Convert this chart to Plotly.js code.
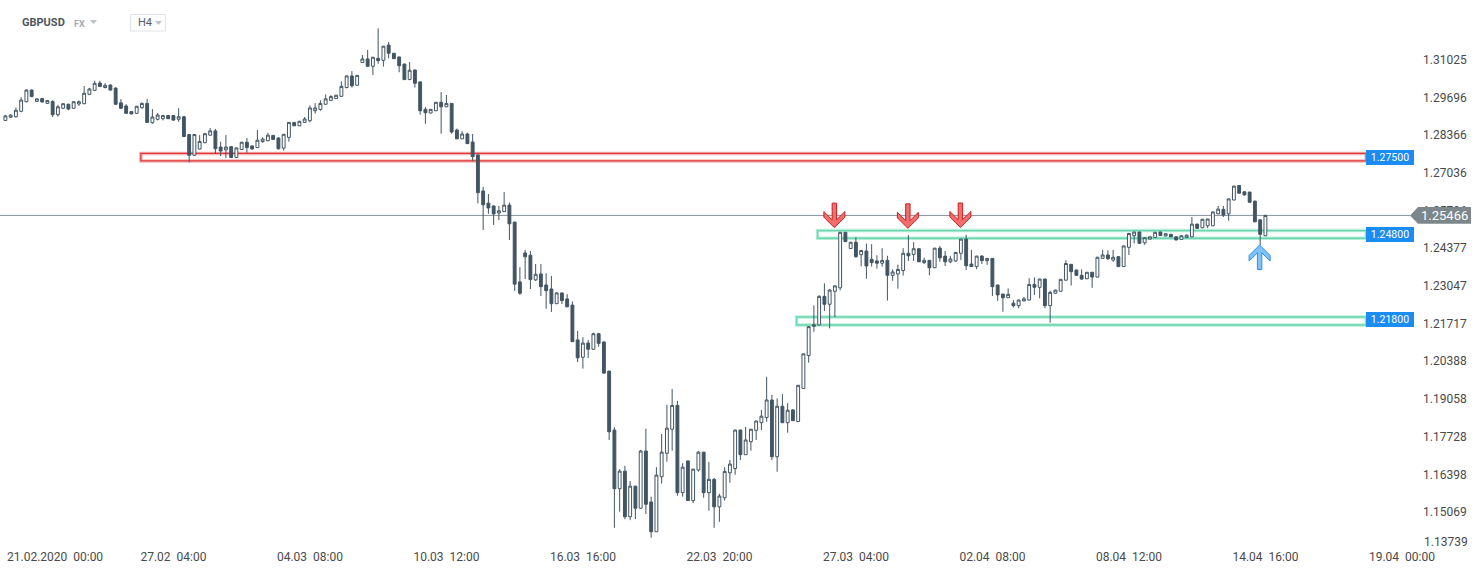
<!DOCTYPE html>
<html>
<head>
<meta charset="utf-8">
<script src="https://cdn.plot.ly/plotly-3.0.1.min.js"></script>
<style>
html,body{margin:0;padding:0;background:#fff;}
#chart{width:1482px;height:574px;}
</style>
</head>
<body>
<div id="chart"></div>
<script>
// ---------------- DATA (GBPUSD, H4 candles) ----------------
const symbol = "GBPUSD";
const market = "FX";
const timeframe = "H4";
const firstCandleIndex = -6; // candle 0 = 21.02.2020 00:00

const open = [
1.2882,1.2893,1.2895,1.2914,1.2948,1.2989,1.2949,1.2959,1.2942,1.2949,
1.2902,1.2925,1.2939,1.2925,1.2940,1.2941,1.2974,1.2988,1.3014,1.2998,
1.3007,1.2996,1.2944,1.2933,1.2913,1.2907,1.2927,1.2942,1.2874,1.2886,
1.2888,1.2899,1.2899,1.2886,1.2895,1.2832,1.2759,1.2781,1.2803,1.2830,
1.2845,1.2788,1.2778,1.2789,1.2751,1.2779,1.2805,1.2792,1.2786,1.2807,
1.2810,1.2829,1.2820,1.2784,1.2822,1.2875,1.2863,1.2875,1.2881,1.2916,
1.2921,1.2939,1.2953,1.2959,1.2967,1.2998,1.3039,1.3006,1.3086,1.3099,
1.3073,1.3101,1.3094,1.3148,1.3119,1.3106,1.3081,1.3026,1.3060,1.3018,
1.2921,1.2908,1.2916,1.2946,1.2930,1.2942,1.2848,1.2817,1.2834,1.2806,
1.2760,1.2633,1.2590,1.2580,1.2555,1.2560,1.2583,1.2523,1.2312,1.2414,
1.2406,1.2319,1.2340,1.2301,1.2287,1.2235,1.2273,1.2252,1.2230,1.2107,
1.2046,1.2096,1.2074,1.2129,1.2100,1.1997,1.1789,1.1582,1.1644,1.1483,
1.1591,1.1513,1.1715,1.1535,1.1430,1.1624,1.1707,1.1792,1.1876,1.1568,
1.1680,1.1540,1.1648,1.1711,1.1568,1.1615,1.1518,1.1550,1.1638,1.1653,
1.1789,1.1702,1.1748,1.1788,1.1815,1.1833,1.1895,1.1695,1.1873,1.1815,
1.1860,1.1819,1.1936,1.2052,1.2155,1.2160,1.2261,1.2233,1.2279,1.2291,
1.2487,1.2430,1.2452,1.2408,1.2421,1.2392,1.2386,1.2378,1.2388,1.2335,
1.2340,1.2352,1.2413,1.2409,1.2429,1.2380,1.2388,1.2362,1.2431,1.2403,
1.2383,1.2386,1.2413,1.2463,1.2375,1.2366,1.2403,1.2387,1.2395,1.2301,
1.2269,1.2256,1.2237,1.2228,1.2245,1.2248,1.2303,1.2293,1.2322,1.2228,
1.2272,1.2279,1.2318,1.2374,1.2354,1.2335,1.2323,1.2346,1.2329,1.2395,
1.2407,1.2389,1.2401,1.2366,1.2434,1.2475,1.2488,1.2450,1.2463,1.2469,
1.2488,1.2474,1.2480,1.2471,1.2462,1.2469,1.2471,1.2516,1.2503,1.2510,
1.2510,1.2552,1.2568,1.2552,1.2601,1.2652,1.2630,1.2629,1.2597,1.2531,
1.2475];

const high = [
1.2901,1.2903,1.2927,1.2964,1.2992,1.2991,1.2960,1.2961,1.2953,1.2953,
1.2937,1.2943,1.2941,1.2949,1.2952,1.3003,1.2997,1.3022,1.3022,1.3013,
1.3009,1.2999,1.2957,1.2939,1.2914,1.2933,1.2946,1.2958,1.2922,1.2908,
1.2902,1.2902,1.2901,1.2925,1.2898,1.2834,1.2834,1.2830,1.2838,1.2855,
1.2852,1.2807,1.2830,1.2792,1.2786,1.2806,1.2820,1.2793,1.2848,1.2822,
1.2838,1.2830,1.2823,1.2834,1.2876,1.2876,1.2880,1.2894,1.2935,1.2943,
1.2953,1.2974,1.2971,1.2972,1.3020,1.3041,1.3056,1.3042,1.3113,1.3131,
1.3106,1.3207,1.3145,1.3159,1.3120,1.3107,1.3082,1.3088,1.3061,1.3019,
1.2929,1.2922,1.2947,1.2982,1.2972,1.2943,1.2853,1.2844,1.2839,1.2834,
1.2761,1.2647,1.2622,1.2582,1.2580,1.2629,1.2592,1.2524,1.2364,1.2425,
1.2421,1.2375,1.2375,1.2342,1.2333,1.2276,1.2274,1.2269,1.2243,1.2139,
1.2117,1.2107,1.2133,1.2132,1.2101,1.1998,1.1799,1.1651,1.1663,1.1609,
1.1592,1.1719,1.1794,1.1554,1.1658,1.1775,1.1878,1.1934,1.1892,1.1672,
1.1681,1.1652,1.1715,1.1712,1.1676,1.1620,1.1564,1.1658,1.1683,1.1790,
1.1790,1.1800,1.1793,1.1822,1.1860,1.1977,1.1913,1.1901,1.1916,1.1884,
1.1863,1.1948,1.2059,1.2155,1.2229,1.2265,1.2307,1.2287,1.2299,1.2488,
1.2488,1.2453,1.2469,1.2425,1.2447,1.2445,1.2406,1.2431,1.2404,1.2356,
1.2373,1.2431,1.2477,1.2452,1.2431,1.2398,1.2389,1.2432,1.2439,1.2421,
1.2404,1.2417,1.2464,1.2478,1.2425,1.2404,1.2407,1.2396,1.2396,1.2302,
1.2270,1.2289,1.2248,1.2249,1.2259,1.2325,1.2328,1.2323,1.2323,1.2281,
1.2284,1.2322,1.2389,1.2375,1.2355,1.2356,1.2347,1.2347,1.2400,1.2425,
1.2423,1.2425,1.2402,1.2440,1.2485,1.2489,1.2489,1.2469,1.2472,1.2488,
1.2489,1.2483,1.2481,1.2472,1.2476,1.2479,1.2541,1.2517,1.2534,1.2535,
1.2560,1.2580,1.2580,1.2606,1.2652,1.2654,1.2631,1.2630,1.2599,1.2532,
1.2549];

const low = [
1.2881,1.2891,1.2892,1.2911,1.2946,1.2964,1.2948,1.2946,1.2941,1.2894,
1.2895,1.2922,1.2918,1.2923,1.2933,1.2939,1.2971,1.2986,1.2999,1.2995,
1.2988,1.2936,1.2922,1.2905,1.2903,1.2906,1.2923,1.2874,1.2870,1.2882,
1.2882,1.2887,1.2881,1.2877,1.2823,1.2734,1.2756,1.2779,1.2802,1.2827,
1.2764,1.2756,1.2749,1.2749,1.2749,1.2778,1.2768,1.2779,1.2785,1.2803,
1.2809,1.2814,1.2779,1.2775,1.2807,1.2862,1.2862,1.2874,1.2875,1.2906,
1.2916,1.2938,1.2950,1.2958,1.2966,1.2995,1.2998,1.3005,1.3085,1.3072,
1.3042,1.3082,1.3072,1.3101,1.3099,1.3052,1.3025,1.3025,1.2998,1.2902,
1.2870,1.2907,1.2915,1.2835,1.2929,1.2835,1.2816,1.2816,1.2799,1.2739,
1.2589,1.2495,1.2552,1.2513,1.2530,1.2559,1.2460,1.2280,1.2266,1.2322,
1.2287,1.2315,1.2262,1.2217,1.2206,1.2234,1.2234,1.2223,1.2100,1.2029,
1.2006,1.2043,1.2073,1.2083,1.1987,1.1754,1.1444,1.1501,1.1474,1.1471,
1.1475,1.1512,1.1493,1.1409,1.1429,1.1600,1.1677,1.1716,1.1557,1.1554,
1.1539,1.1531,1.1642,1.1550,1.1504,1.1444,1.1465,1.1540,1.1603,1.1631,
1.1683,1.1701,1.1716,1.1754,1.1789,1.1818,1.1683,1.1642,1.1814,1.1780,
1.1821,1.1817,1.1935,1.2027,1.2136,1.2159,1.2209,1.2148,1.2188,1.2282,
1.2453,1.2428,1.2397,1.2367,1.2323,1.2366,1.2359,1.2366,1.2246,1.2316,
1.2288,1.2334,1.2386,1.2386,1.2382,1.2375,1.2335,1.2361,1.2383,1.2368,
1.2378,1.2383,1.2389,1.2354,1.2365,1.2357,1.2375,1.2372,1.2262,1.2245,
1.2207,1.2255,1.2222,1.2219,1.2243,1.2247,1.2266,1.2254,1.2219,1.2168,
1.2271,1.2278,1.2317,1.2299,1.2334,1.2319,1.2322,1.2291,1.2328,1.2394,
1.2389,1.2383,1.2365,1.2365,1.2407,1.2448,1.2447,1.2443,1.2462,1.2468,
1.2475,1.2473,1.2470,1.2459,1.2461,1.2468,1.2470,1.2500,1.2502,1.2502,
1.2509,1.2551,1.2541,1.2528,1.2600,1.2624,1.2617,1.2592,1.2523,1.2442,
1.2475];

const close = [
1.2898,1.2901,1.2918,1.2954,1.2989,1.2966,1.2958,1.2947,1.2952,1.2902,
1.2930,1.2941,1.2922,1.2948,1.2948,1.2978,1.2993,1.3013,1.3002,1.3006,
1.2989,1.2939,1.2925,1.2907,1.2905,1.2932,1.2942,1.2875,1.2894,1.2901,
1.2899,1.2888,1.2883,1.2895,1.2825,1.2759,1.2832,1.2808,1.2835,1.2845,
1.2782,1.2774,1.2788,1.2751,1.2785,1.2805,1.2786,1.2781,1.2812,1.2816,
1.2830,1.2815,1.2782,1.2833,1.2875,1.2863,1.2879,1.2887,1.2926,1.2926,
1.2942,1.2958,1.2966,1.2971,1.3002,1.3039,1.3004,1.3041,1.3099,1.3073,
1.3105,1.3093,1.3144,1.3119,1.3100,1.3075,1.3026,1.3059,1.3013,1.2916,
1.2909,1.2921,1.2946,1.2930,1.2942,1.2841,1.2817,1.2834,1.2800,1.2754,
1.2627,1.2584,1.2573,1.2552,1.2563,1.2583,1.2517,1.2304,1.2272,1.2401,
1.2320,1.2339,1.2295,1.2281,1.2235,1.2273,1.2246,1.2224,1.2101,1.2044,
1.2096,1.2074,1.2129,1.2095,1.1990,1.1783,1.1582,1.1644,1.1483,1.1591,
1.1513,1.1715,1.1527,1.1430,1.1630,1.1711,1.1796,1.1876,1.1568,1.1658,
1.1540,1.1651,1.1711,1.1568,1.1615,1.1518,1.1556,1.1643,1.1669,1.1789,
1.1702,1.1754,1.1792,1.1821,1.1838,1.1895,1.1695,1.1873,1.1815,1.1859,
1.1822,1.1947,1.2058,1.2154,1.2161,1.2261,1.2233,1.2283,1.2298,1.2487,
1.2454,1.2452,1.2401,1.2423,1.2368,1.2380,1.2378,1.2388,1.2335,1.2347,
1.2356,1.2413,1.2404,1.2429,1.2383,1.2388,1.2362,1.2431,1.2397,1.2383,
1.2393,1.2416,1.2463,1.2369,1.2366,1.2403,1.2387,1.2395,1.2295,1.2266,
1.2256,1.2268,1.2228,1.2248,1.2252,1.2303,1.2293,1.2322,1.2228,1.2275,
1.2283,1.2321,1.2377,1.2348,1.2335,1.2322,1.2346,1.2329,1.2399,1.2407,
1.2394,1.2399,1.2366,1.2439,1.2483,1.2488,1.2448,1.2468,1.2471,1.2487,
1.2476,1.2482,1.2471,1.2460,1.2475,1.2477,1.2516,1.2501,1.2533,1.2534,
1.2559,1.2569,1.2548,1.2605,1.2650,1.2625,1.2619,1.2593,1.2524,1.2480,
1.25466];

const lastPrice = 1.25466;

// x-axis labels: one every 26 candles
const xTickIndex = [0, 26, 52, 78, 104, 130, 156, 182, 208, 234, 260];
const xTickLabels = ["21.02.2020  00:00", "27.02  04:00", "04.03  08:00", "10.03  12:00",
  "16.03  16:00", "22.03  20:00", "27.03  04:00", "02.04  08:00", "08.04  12:00",
  "14.04  16:00", "19.04  00:00"];

// y-axis labels
const yTickValues = [1.31025, 1.29696, 1.28366, 1.27036, 1.25706, 1.24377, 1.23047,
  1.21717, 1.20388, 1.19058, 1.17728, 1.16398, 1.15069, 1.13739];

// horizontal zones (level label, band bottom, band top)
const zoneLevels = [1.27500, 1.24800, 1.21800];
const zoneLow    = [1.27390, 1.24660, 1.21598];
const zoneHigh   = [1.27655, 1.24932, 1.21880];

// ---------------- LAYOUT / STYLE ----------------
const W = 1482, H = 574;
const M = {l: 0, r: 68, t: 0, b: 26, pad: 0};
const plotW = W - M.l - M.r;
const plotH = H - M.t - M.b;
const xRange = [-7.0286, 262.305];
const yRange = [1.137266, 1.330701];
const pxPerIdx = plotW / (xRange[1] - xRange[0]);
const pxPerUnit = plotH / (yRange[1] - yRange[0]);
const px = v => v / plotW;          // pixel -> paper x
const py = v => 1 - v / plotH;      // pixel -> paper y
const yPix = p => (yRange[1] - p) * pxPerUnit;

const CANDLE = '#425563';
const FONT = 'Roboto, "Open Sans", sans-serif';
const TICK_COLOR = '#4a4a4a';

const x = open.map((_, i) => firstCandleIndex + i);

const trace = {
  type: 'candlestick',
  x: x, open: open, high: high, low: low, close: close,
  increasing: {line: {color: CANDLE, width: 1}, fillcolor: '#ffffff'},
  decreasing: {line: {color: CANDLE, width: 1}, fillcolor: CANDLE},
  whiskerwidth: 0,
  hoverinfo: 'skip',
  showlegend: false
};

const shapes = [];
const annotations = [];

// zone styling
const zoneStyle = [
  {x0: 19.8,  outer: 'rgba(232,70,70,0.40)',  inner: '#e03a3a'},
  {x0: 148.7, outer: 'rgba(95,214,170,0.45)', inner: '#6cd6ae'},
  {x0: 144.7, outer: 'rgba(95,214,170,0.45)', inner: '#6cd6ae'}
];
const zoneX1 = 253.2;
zoneLevels.forEach((lvl, i) => {
  const st = zoneStyle[i];
  shapes.push({type: 'rect', xref: 'x', yref: 'y', x0: st.x0, x1: zoneX1, y0: zoneLow[i], y1: zoneHigh[i],
    line: {color: st.outer, width: 3.5}, fillcolor: 'rgba(0,0,0,0)', layer: 'below'});
  shapes.push({type: 'rect', xref: 'x', yref: 'y', x0: st.x0, x1: zoneX1, y0: zoneLow[i], y1: zoneHigh[i],
    line: {color: st.inner, width: 1.3}, fillcolor: 'rgba(0,0,0,0)', layer: 'below'});
  annotations.push({xref: 'paper', yref: 'y', x: 1, y: lvl, xanchor: 'right', yanchor: 'middle',
    text: lvl.toFixed(5), showarrow: false, bgcolor: '#1a8cf2', borderwidth: 0, borderpad: 2,
    width: 44, height: 11, align: 'center',
    font: {family: FONT, size: 10.5, color: '#ffffff'}});
});

// current price line
shapes.push({type: 'line', xref: 'paper', yref: 'y', x0: 0, x1: px(1410), y0: lastPrice, y1: lastPrice,
  line: {color: '#85939a', width: 1}, layer: 'below'});

// price tag
const tagY = yPix(lastPrice);
const tagPts = [[1410, tagY], [1418, tagY - 8.3], [1471, tagY - 8.3], [1471, tagY + 8.3], [1418, tagY + 8.3]];
shapes.push({type: 'path', xref: 'paper', yref: 'paper',
  path: 'M' + tagPts.map(p => px(p[0]) + ',' + py(p[1])).join('L') + 'Z',
  fillcolor: '#7c878c', line: {width: 0}, layer: 'above'});
annotations.push({xref: 'paper', yref: 'y', x: px(1444), y: lastPrice, xanchor: 'center', yanchor: 'middle',
  text: lastPrice.toFixed(5), showarrow: false, font: {family: FONT, size: 13, color: '#ffffff'}});

// arrows (pixel offsets relative to tip, y down)
const arrowPts = [[0,0],[-10.5,-10.5],[-10.5,-16],[-2.2,-7.8],[-2.2,-24.5],[2.2,-24.5],[2.2,-7.8],[10.5,-16],[10.5,-10.5]];
function arrowPath(xi, price, dir) { // dir 1 = points down, -1 = points up
  return 'M' + arrowPts.map(([dx, dy]) =>
    (xi + dx / pxPerIdx).toFixed(4) + ',' + (price - dir * dy / pxPerUnit).toFixed(6)).join('L') + 'Z';
}
const downArrows = [[151.9, 1.25035], [165.9, 1.25010], [175.9, 1.25040]];
downArrows.forEach(a => shapes.push({type: 'path', xref: 'x', yref: 'y', path: arrowPath(a[0], a[1], 1),
  fillcolor: '#ef6f6f', line: {color: '#d01c1c', width: 1}, layer: 'above'}));
shapes.push({type: 'path', xref: 'x', yref: 'y', path: arrowPath(232.9, 1.24422, -1),
  fillcolor: '#80c2fa', line: {color: '#2b8ef2', width: 1}, layer: 'above'});

// header
annotations.push({xref: 'paper', yref: 'paper', x: px(20), y: py(23), xanchor: 'left', yanchor: 'middle',
  text: '<b>' + symbol + '</b>', showarrow: false, font: {family: FONT, size: 11, color: '#4d555c'}});
annotations.push({xref: 'paper', yref: 'paper', x: px(72), y: py(23.5), xanchor: 'left', yanchor: 'middle',
  text: '<b>' + market + '</b>', showarrow: false, font: {family: FONT, size: 9, color: '#a2abb2'}});
annotations.push({xref: 'paper', yref: 'paper', x: px(136), y: py(23), xanchor: 'left', yanchor: 'middle',
  text: timeframe, showarrow: false, font: {family: FONT, size: 11, color: '#555c62'}});
const tri = (x0, y0) => 'M' + px(x0) + ',' + py(y0) + 'L' + px(x0 + 7) + ',' + py(y0) + 'L' + px(x0 + 3.5) + ',' + py(y0 + 4) + 'Z';
shapes.push({type: 'path', xref: 'paper', yref: 'paper', path: tri(90, 20), fillcolor: '#b9c0c6', line: {width: 0}, layer: 'above'});
shapes.push({type: 'path', xref: 'paper', yref: 'paper', path: tri(155, 21), fillcolor: '#b9c0c6', line: {width: 0}, layer: 'above'});
shapes.push({type: 'rect', xref: 'paper', yref: 'paper', x0: px(130.5), x1: px(165.5), y0: py(31), y1: py(14.5),
  line: {color: '#dfe3e7', width: 1}, fillcolor: 'rgba(0,0,0,0)', layer: 'above'});

// first x label (left-clamped like the original)
annotations.push({xref: 'paper', yref: 'paper', x: px(5), y: py(557), xanchor: 'left', yanchor: 'middle',
  text: xTickLabels[0], showarrow: false, font: {family: FONT, size: 12, color: TICK_COLOR}});

// lowest y label sits slightly higher (as in the original) so it clears the x labels
const lastY = yTickValues.length - 1;
annotations.push({xref: 'paper', yref: 'paper', x: px(1422), y: py(542), xanchor: 'left', yanchor: 'middle',
  text: yTickValues[lastY].toFixed(5), showarrow: false, font: {family: FONT, size: 12, color: TICK_COLOR}});

const layout = {
  width: W, height: H, margin: M,
  paper_bgcolor: '#ffffff', plot_bgcolor: '#ffffff',
  showlegend: false, boxgap: 0.22, dragmode: false, hovermode: false,
  font: {family: FONT, size: 12, color: TICK_COLOR},
  xaxis: {type: 'linear', range: xRange, rangeslider: {visible: false}, showgrid: false, zeroline: false,
    showline: false, ticks: '', tickmode: 'array', tickvals: xTickIndex,
    ticktext: xTickLabels.map((t, i) => i === 0 ? '' : t),
    tickfont: {family: FONT, size: 12, color: TICK_COLOR}, fixedrange: true},
  yaxis: {type: 'linear', range: yRange, side: 'right', showgrid: false, zeroline: false, showline: false,
    ticks: '', tickmode: 'array', tickvals: yTickValues,
    ticktext: yTickValues.map((v, i) => i === lastY ? '' : v.toFixed(5)),
    tickfont: {family: FONT, size: 12, color: TICK_COLOR}, ticklabelstandoff: 8, ticklabelshift: 2,
    fixedrange: true},
  shapes: shapes,
  annotations: annotations
};

Plotly.newPlot('chart', [trace], layout, {displayModeBar: false, staticPlot: true});
</script>
</body>
</html>
